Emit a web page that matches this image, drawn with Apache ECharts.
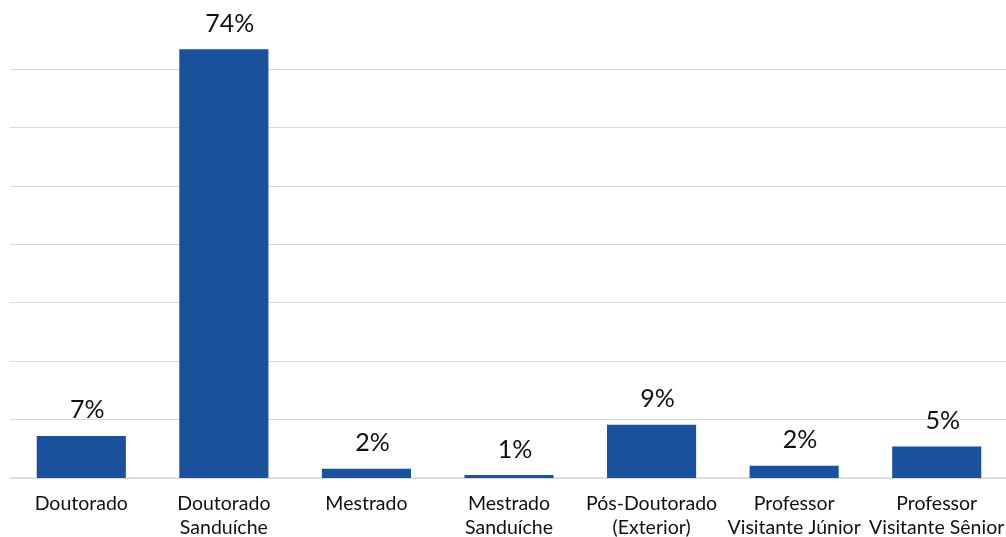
<!DOCTYPE html>
<html><head><meta charset="utf-8">
<script src="https://cdn.jsdelivr.net/npm/echarts@6/dist/echarts.min.js"></script>
<style>html,body{margin:0;padding:0;background:#fff}#c{width:1006px;height:537px}</style>
</head><body><div id="c"></div>
<script>
const categories = ["Doutorado", "Doutorado\nSanduíche", "Mestrado", "Mestrado\nSanduíche", "Pós-Doutorado\n(Exterior)", "Professor\nVisitante Júnior", "Professor\nVisitante Sênior"];
const values = [7.2, 73.4, 1.6, 0.5, 9.1, 2.1, 5.4];
const labels = ["7%", "74%", "2%", "1%", "9%", "2%", "5%"];

const chart = echarts.init(document.getElementById('c'));
chart.setOption({
  animation: false,
  grid: { left: 10, width: 998, top: 10.6, bottom: 59, containLabel: false, outerBoundsMode: 'none' },
  xAxis: {
    type: 'category', data: categories,
    axisTick: { show: false },
    axisLine: { lineStyle: { color: '#d9d9d9', width: 1.5 } },
    axisLabel: { color: '#111', fontFamily: 'Lato', fontSize: 19.5, lineHeight: 24, margin: 14, interval: 0 }
  },
  yAxis: {
    type: 'value', min: 0, max: 80, interval: 10,
    axisLabel: { show: false },
    axisLine: { show: false }, axisTick: { show: false },
    splitLine: { showMaxLine: false, lineStyle: { color: '#d9d9d9', width: 1.2 } }
  },
  series: [{
    type: 'bar', data: values, barWidth: '62.5%',
    itemStyle: { color: '#1a519c' },
    label: {
      show: true, position: 'top', distance: 13, offset: [6, 0],
      color: '#111', fontFamily: 'Lato', fontSize: 25,
      formatter: p => labels[p.dataIndex]
    }
  }]
});
</script></body></html>
